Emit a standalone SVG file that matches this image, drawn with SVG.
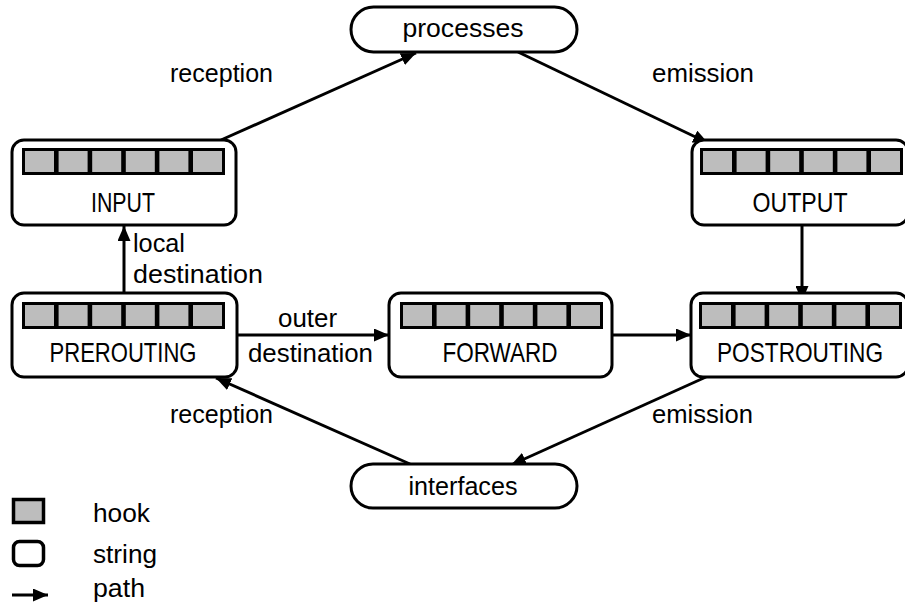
<svg xmlns="http://www.w3.org/2000/svg" xmlns:xlink="http://www.w3.org/1999/xlink" width="905" height="610" viewBox="0 0 905 610">
<style>
.box{fill:#fff;stroke:#000;stroke-width:3}
.pill{fill:#fff;stroke:#000;stroke-width:3}
.lbl{font-family:"Liberation Sans",Arial,sans-serif;font-size:26px;fill:#000}
.cap{font-size:28px}
.c{text-anchor:middle}
.edge{stroke:#000;stroke-width:3;fill:none;marker-end:url(#arr)}
.hk{fill:#bdbdbd}
</style>
<defs>
<marker id="arr" markerUnits="userSpaceOnUse" markerWidth="16" markerHeight="13" refX="15" refY="6.5" orient="auto">
<path d="M0,0 L15,6.5 L0,13 z" fill="#000"/>
</marker>
<g id="hooks">
<rect x="0" y="0" width="203" height="27" fill="#000"/>
<rect class="hk" x="3" y="3" width="29" height="21"/>
<rect class="hk" x="36.6" y="3" width="29" height="21"/>
<rect class="hk" x="70.2" y="3" width="29" height="21"/>
<rect class="hk" x="103.8" y="3" width="29" height="21"/>
<rect class="hk" x="137.4" y="3" width="29" height="21"/>
<rect class="hk" x="171" y="3" width="29" height="21"/>
</g>
</defs>
<rect width="905" height="610" fill="#fff"/>

<g id="connectors">
<line class="edge" x1="221" y1="140" x2="416" y2="53"/>
<line class="edge" x1="518" y1="52" x2="708" y2="143"/>
<line class="edge" x1="802" y1="225" x2="802" y2="301"/>
<line class="edge" x1="124" y1="293" x2="124" y2="226"/>
<line class="edge" x1="237" y1="335" x2="389" y2="335"/>
<line class="edge" x1="612" y1="335" x2="691" y2="335"/>
<line class="edge" x1="706" y1="377" x2="511" y2="465"/>
<line class="edge" x1="410" y1="464" x2="216" y2="378"/>
</g>

<g id="processes">
<rect class="pill" x="351" y="7" width="226" height="45" rx="22.5"/>
<text class="lbl c" x="463" y="37" textLength="121" lengthAdjust="spacingAndGlyphs">processes</text>
</g>
<g id="interfaces">
<rect class="pill" x="351" y="464" width="226" height="44" rx="22"/>
<text class="lbl c" x="463" y="495" textLength="109" lengthAdjust="spacingAndGlyphs">interfaces</text>
</g>
<g id="input">
<rect class="box" x="12" y="140" width="224" height="85" rx="12"/>
<use xlink:href="#hooks" x="22" y="148"/>
<text class="lbl cap c" x="123" y="212" textLength="64" lengthAdjust="spacingAndGlyphs">INPUT</text>
</g>
<g id="output">
<rect class="box" x="692" y="140" width="216" height="85" rx="12"/>
<use xlink:href="#hooks" x="700" y="148"/>
<text class="lbl cap c" x="800" y="212" textLength="95" lengthAdjust="spacingAndGlyphs">OUTPUT</text>
</g>
<g id="prerouting">
<rect class="box" x="12" y="293" width="225" height="84" rx="12"/>
<use xlink:href="#hooks" x="22" y="302"/>
<text class="lbl cap c" x="123" y="362" textLength="147" lengthAdjust="spacingAndGlyphs">PREROUTING</text>
</g>
<g id="forward">
<rect class="box" x="389" y="293" width="223" height="84" rx="12"/>
<use xlink:href="#hooks" x="400" y="302"/>
<text class="lbl cap c" x="500" y="362" textLength="115" lengthAdjust="spacingAndGlyphs">FORWARD</text>
</g>
<g id="postrouting">
<rect class="box" x="691" y="293" width="217" height="84" rx="12"/>
<use xlink:href="#hooks" x="699" y="302"/>
<text class="lbl cap c" x="800" y="362" textLength="166" lengthAdjust="spacingAndGlyphs">POSTROUTING</text>
</g>

<g id="labels">
<text class="lbl" x="170" y="82" textLength="103" lengthAdjust="spacingAndGlyphs">reception</text>
<text class="lbl" x="652" y="82" textLength="102" lengthAdjust="spacingAndGlyphs">emission</text>
<text class="lbl" x="133" y="252" textLength="52" lengthAdjust="spacingAndGlyphs">local</text>
<text class="lbl" x="133" y="283" textLength="130" lengthAdjust="spacingAndGlyphs">destination</text>
<text class="lbl" x="278" y="327" textLength="59" lengthAdjust="spacingAndGlyphs">outer</text>
<text class="lbl" x="248" y="362" textLength="125" lengthAdjust="spacingAndGlyphs">destination</text>
<text class="lbl" x="170" y="423" textLength="103" lengthAdjust="spacingAndGlyphs">reception</text>
<text class="lbl" x="652" y="423" textLength="101" lengthAdjust="spacingAndGlyphs">emission</text>
</g>

<g id="legend">
<rect x="13.5" y="499.5" width="30" height="23" fill="#bdbdbd" stroke="#000" stroke-width="3.5"/>
<text class="lbl" x="93" y="522" textLength="57" lengthAdjust="spacingAndGlyphs">hook</text>
<rect x="13.5" y="541.5" width="30" height="24" rx="6" fill="#fff" stroke="#000" stroke-width="3.5"/>
<text class="lbl" x="93" y="563" textLength="64" lengthAdjust="spacingAndGlyphs">string</text>
<line class="edge" x1="12" y1="595" x2="48" y2="595"/>
<text class="lbl" x="93" y="597" textLength="52" lengthAdjust="spacingAndGlyphs">path</text>
</g>
</svg>
